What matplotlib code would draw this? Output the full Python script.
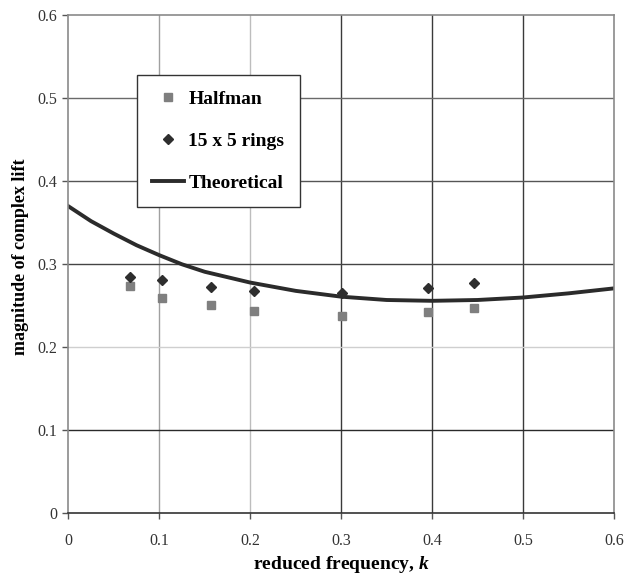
import numpy as np
import matplotlib
matplotlib.use("Agg")
import matplotlib.pyplot as plt

# -------------------------------------------------------
# DATA
# -------------------------------------------------------
k_exp = [0.068, 0.103, 0.157, 0.204, 0.301, 0.396, 0.446]
halfman = [0.274, 0.259, 0.251, 0.244, 0.238, 0.243, 0.247]
rings = [0.285, 0.281, 0.273, 0.268, 0.266, 0.271, 0.278]

k_theory = [0.0, 0.025, 0.05, 0.075, 0.1, 0.125, 0.15, 0.2, 0.25, 0.3, 0.35, 0.4,
            0.45, 0.5, 0.55, 0.6]
lift_theory = [0.370, 0.352, 0.337, 0.323, 0.311, 0.300, 0.291, 0.278, 0.268, 0.261,
               0.257, 0.256, 0.257, 0.260, 0.265, 0.271]

ticks = [0, 0.1, 0.2, 0.3, 0.4, 0.5, 0.6]
tick_labels = ["0", "0.1", "0.2", "0.3", "0.4", "0.5", "0.6"]

# scanned look: gridlines are not all the same shade
vgrid_colors = ["#888888", "#a0a0a0", "#bdbdbd", "#3a3a3a", "#3a3a3a", "#3a3a3a", "#8a8a8a"]
hgrid_colors = ["#333333", "#2a2a2a", "#cfcfcf", "#444444", "#555555", "#6a6a6a", "#8a8a8a"]

plt.rcParams["font.family"] = ["Liberation Serif", "DejaVu Serif"]
plt.rcParams["mathtext.fontset"] = "custom"
plt.rcParams["mathtext.rm"] = "Liberation Serif"
plt.rcParams["mathtext.it"] = "Liberation Serif:italic"
plt.rcParams["mathtext.bf"] = "Liberation Serif:bold"
plt.rcParams["mathtext.bfit"] = "Liberation Serif:bold:italic"

fig = plt.figure(figsize=(6.27, 5.84), dpi=100)
ax = fig.add_axes([68.3 / 627, 1 - 513.3 / 584, (614 - 68.3) / 627, (513.3 - 15.3) / 584])

for t, c in zip(ticks[1:-1], vgrid_colors[1:-1]):
    ax.axvline(t, color=c, lw=1.0, zorder=0)
for t, c in zip(ticks[1:-1], hgrid_colors[1:-1]):
    ax.axhline(t, color=c, lw=1.0, zorder=0)

ax.plot(k_exp, halfman, "s", color="#7f7f7f", ms=5.6, mec="#7f7f7f", label="Halfman", zorder=3)
ax.plot(k_exp, rings, "D", color="#2e2e2e", ms=5.5, mec="#2e2e2e", label="15 x 5 rings", zorder=3)
ax.plot(k_theory, lift_theory, "-", color="#2b2b2b", lw=2.8, label="Theoretical", zorder=2)

ax.set_xlim(0, 0.6)
ax.set_ylim(0, 0.6)
ax.set_xticks(ticks)
ax.set_xticklabels(tick_labels)
ax.set_yticks(ticks)
ax.set_yticklabels(tick_labels)

ax.tick_params(axis="both", direction="out", length=4, width=1, colors="#555555",
               labelcolor="#333333", labelsize=11.5)
ax.tick_params(axis="x", pad=10)
ax.tick_params(axis="y", pad=4)

ax.spines["left"].set_color("#8a8a8a")
ax.spines["top"].set_color("#8a8a8a")
ax.spines["right"].set_color("#8a8a8a")
ax.spines["bottom"].set_color("#333333")
for s in ax.spines.values():
    s.set_linewidth(1.2)

ax.set_xlabel("reduced frequency, $\\boldsymbol{k}$", fontsize=14, fontweight="bold")
ax.set_ylabel("magnitude of complex lift", fontsize=13, fontweight="bold")
ax.xaxis.set_label_coords(0.5, -0.082)
ax.yaxis.set_label_coords(-0.072, 0.515)

leg = ax.legend(loc="upper left", bbox_to_anchor=(0.1264, 0.880), frameon=True,
                fancybox=False, framealpha=1, edgecolor="#333333",
                prop={"weight": "bold", "size": 14}, labelspacing=1.25,
                handlelength=1.6, handletextpad=0.25, borderpad=0.78, borderaxespad=0)
leg.get_frame().set_linewidth(1.0)

fig.savefig("out.png", dpi=100)
